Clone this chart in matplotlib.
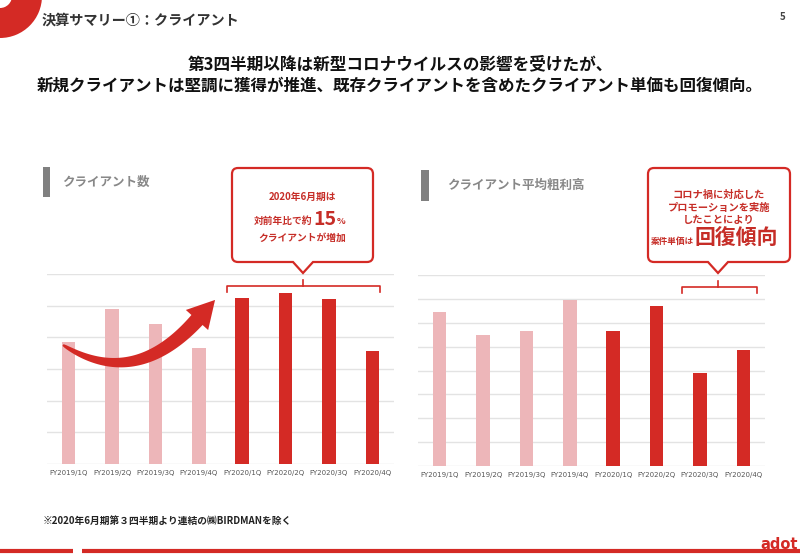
import numpy as np
import matplotlib
matplotlib.use("Agg")
import matplotlib.pyplot as plt
from matplotlib.path import Path
from matplotlib.patches import PathPatch, Wedge, Rectangle, Polygon

plt.rcParams['font.family'] = ['Noto Sans CJK JP', 'DejaVu Sans']

RED = '#D42A25'
PINK = '#EDB6B9'
GRID = '#E3E3E3'

quarters = ['FY2019/1Q', 'FY2019/2Q', 'FY2019/3Q', 'FY2019/4Q',
            'FY2020/1Q', 'FY2020/2Q', 'FY2020/3Q', 'FY2020/4Q']
# values (no axis labels in the original, relative units)
clients = [386, 489, 441, 365, 525, 540, 520, 356]
gross_profit = [643, 549, 567, 695, 567, 671, 391, 486]
bar_colors = [PINK] * 4 + [RED] * 4

fig = plt.figure(figsize=(8, 5.54), dpi=100)
W, H = 800, 554


def px_axes(x0, x1, ybase, ytop):
    return fig.add_axes([x0 / W, 1 - ybase / H, (x1 - x0) / W, (ybase - ytop) / H])


def bar_chart(ax, values, ymax, step):
    x = np.arange(len(values))
    ax.bar(x, values, width=0.31, color=bar_colors, zorder=2)
    ax.set_xlim(-0.5, len(values) - 0.5)
    ax.set_ylim(0, ymax)
    ax.set_yticks(np.arange(0, ymax + 1, step))
    ax.yaxis.grid(True, color=GRID, lw=1, zorder=0)
    ax.set_yticklabels([])
    ax.tick_params(axis='y', length=0)
    ax.set_xticks(x)
    ax.set_xticklabels(quarters, fontsize=5, color='#555', family='DejaVu Sans')
    ax.tick_params(axis='x', length=0, pad=4.5)
    for s in ax.spines.values():
        s.set_visible(False)
    ax.patch.set_alpha(0)


ax1 = px_axes(47, 394, 464, 274)
bar_chart(ax1, clients, 600, 100)
ax2 = px_axes(418, 765, 466, 275)
bar_chart(ax2, gross_profit, 800, 100)

# overlay in pixel coordinates for the slide decorations
ov = fig.add_axes([0, 0, 1, 1])
ov.set_xlim(0, W)
ov.set_ylim(H, 0)
ov.axis('off')
ov.patch.set_alpha(0)

# top-left red ring
ov.add_patch(Wedge((0, -4), 42, 0, 360, width=30, color=RED, lw=0))
ov.text(42, 21, '決算サマリー①：クライアント', fontsize=10.2, fontweight='bold',
        color='#333', va='center', ha='left')
ov.text(783, 17, '5', fontsize=7, fontweight='bold', color='#444', va='center', ha='center')

# headline
ov.text(400, 64, '第3四半期以降は新型コロナウイルスの影響を受けたが、', fontsize=12,
        fontweight='bold', color='#111', ha='center', va='center')
ov.text(400, 86, '新規クライアントは堅調に獲得が推進、既存クライアントを含めたクライアント単価も回復傾向。',
        fontsize=11.9, fontweight='bold', color='#111', ha='center', va='center')

# section headers
ov.add_patch(Rectangle((43, 167), 7, 30, color='#808080', lw=0))
ov.text(62, 182, 'クライアント数', fontsize=9, fontweight='bold', color='#888', va='center')
ov.add_patch(Rectangle((421, 170), 8, 31, color='#808080', lw=0))
ov.text(447, 185, 'クライアント平均粗利高', fontsize=9, fontweight='bold', color='#888', va='center')


def callout(x0, y0, x1, y1, px, tip, r=6, pw=10):
    verts = [(x0 + r, y0), (x1 - r, y0), (x1, y0), (x1, y0 + r), (x1, y1 - r),
             (x1, y1), (x1 - r, y1), (px + pw, y1), (px, tip), (px - pw, y1),
             (x0 + r, y1), (x0, y1), (x0, y1 - r), (x0, y0 + r), (x0, y0),
             (x0 + r, y0), (x0 + r, y0)]
    codes = [Path.MOVETO, Path.LINETO, Path.CURVE3, Path.CURVE3, Path.LINETO,
             Path.CURVE3, Path.CURVE3, Path.LINETO, Path.LINETO, Path.LINETO,
             Path.LINETO, Path.CURVE3, Path.CURVE3, Path.LINETO, Path.CURVE3,
             Path.CURVE3, Path.CLOSEPOLY]
    ov.add_patch(PathPatch(Path(verts, codes), facecolor='white', edgecolor=RED, lw=1.6))


def bracket(x0, x1, y, xc):
    ov.plot([x0, x0, x1, x1], [y + 6, y, y, y + 6], color=RED, lw=1.2)
    ov.plot([xc, xc], [y, y - 5.5], color=RED, lw=1.2)


TXT = '#C62D27'
callout(232, 168, 373, 262, 303, 273)
ov.text(302, 197, '2020年6月期は', fontsize=7, fontweight='bold', color=TXT, ha='center', va='center')
ov.text(312, 224, '対前年比で約', fontsize=7, fontweight='bold', color=TXT, ha='right', va='baseline')
ov.text(313, 225, '15', fontsize=14, fontweight='bold', color=TXT, ha='left', va='baseline')
ov.text(336.5, 224, '%', fontsize=6.5, fontweight='bold', color=TXT, ha='left', va='baseline')
ov.text(302, 238, 'クライアントが増加', fontsize=7, fontweight='bold', color=TXT, ha='center', va='center')
bracket(227, 380, 285.7, 303)

callout(648, 168, 790, 262, 718, 273)
ov.text(719, 195, 'コロナ禍に対応した', fontsize=7.4, fontweight='bold', color=TXT, ha='center', va='center')
ov.text(719, 207.5, 'プロモーションを実施', fontsize=7.4, fontweight='bold', color=TXT, ha='center', va='center')
ov.text(719, 220, 'したことにより', fontsize=7.4, fontweight='bold', color=TXT, ha='center', va='center')
ov.text(694, 244, '案件単価は', fontsize=6.2, fontweight='bold', color=TXT, ha='right', va='baseline')
ov.text(695, 245, '回復傾向', fontsize=15, fontweight='bold', color=TXT, ha='left', va='baseline')
bracket(682, 757, 286.7, 718)

# curved growth arrow
P0 = np.array([63.0, 345.0])
C = np.array([134.0, 390.0])
P2 = np.array([197.0, 320.0])
t = np.linspace(0, 1, 60)
pts = ((1 - t) ** 2)[:, None] * P0 + (2 * t * (1 - t))[:, None] * C + (t ** 2)[:, None] * P2
der = (2 * (1 - t))[:, None] * (C - P0) + (2 * t)[:, None] * (P2 - C)
der /= np.linalg.norm(der, axis=1)[:, None]
nrm = np.column_stack([-der[:, 1], der[:, 0]])
wid = 1.0 + 6.5 * t ** 0.6
upper = pts + nrm * wid[:, None]
lower = pts - nrm * wid[:, None]
d = der[-1]
n = nrm[-1]
tip = P2 + 27 * d
head = [P2 + 15 * n, tip, P2 - 15 * n]
poly = np.vstack([upper, head, lower[::-1]])
ov.add_patch(Polygon(poly, closed=True, color=RED, lw=0, zorder=5))

# footnote
ov.text(43, 521, '※2020年6月期第３四半期より連結の㈱BIRDMANを除く', fontsize=7,
        fontweight='bold', color='#222', va='center')

# bottom rule and logo
ov.plot([0, 73], [551, 551], color=RED, lw=3, solid_capstyle='butt')
ov.plot([82, 800], [551, 551], color=RED, lw=3, solid_capstyle='butt')
ov.text(798, 549, 'adot', fontsize=10.5, fontweight='bold', color=RED, ha='right',
        va='baseline', family='DejaVu Sans')

fig.savefig('out.png', dpi=100)
